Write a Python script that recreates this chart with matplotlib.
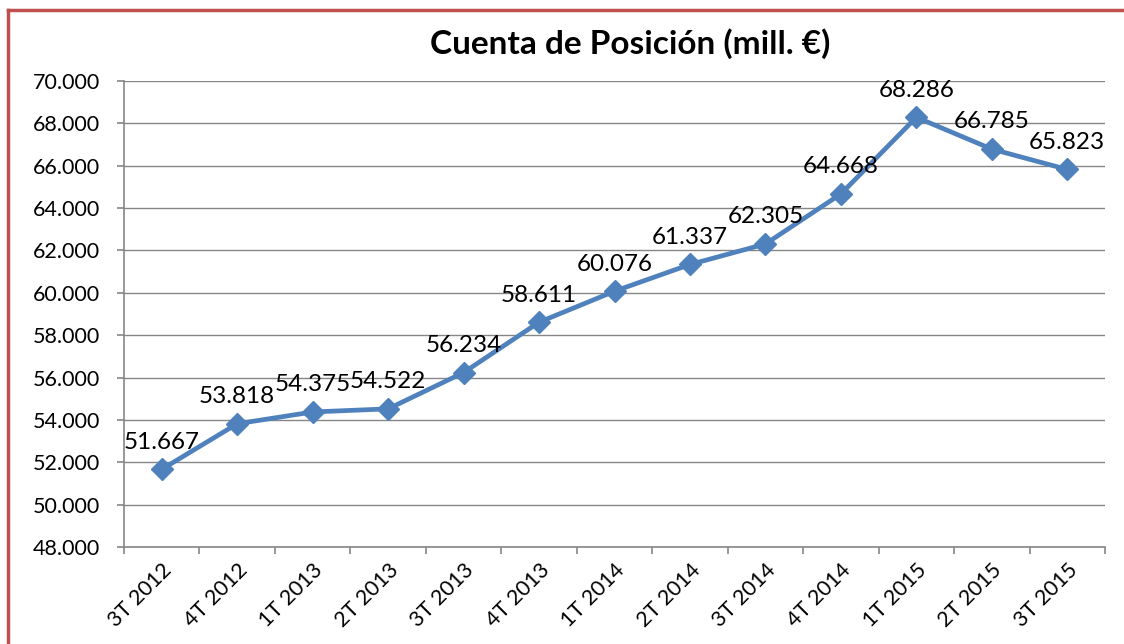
import matplotlib
matplotlib.use("Agg")
import matplotlib.pyplot as plt
from matplotlib.ticker import FuncFormatter, FixedLocator, MultipleLocator, NullFormatter
from matplotlib.lines import Line2D

categories = ["3T 2012", "4T 2012", "1T 2013", "2T 2013", "3T 2013", "4T 2013",
              "1T 2014", "2T 2014", "3T 2014", "4T 2014", "1T 2015", "2T 2015", "3T 2015"]
values = [51667, 53818, 54375, 54522, 56234, 58611, 60076, 61337, 62305, 64668,
          68286, 66785, 65823]
title = "Cuenta de Posición (mill. €)"

def fmt(v):
    return f"{v:,.0f}".replace(",", ".")

plt.rcParams['font.family'] = ['Lato', 'DejaVu Sans']

W, H = 1124, 644
fig = plt.figure(figsize=(W / 100, H / 100), dpi=100)
ax = fig.add_axes([124 / W, 1 - 547 / H, (1105 - 124) / W, (547 - 81) / H])

x = list(range(len(values)))
ax.plot(x, values, color="#4F81BD", lw=3.4, marker="D", markersize=11,
        markerfacecolor="#4F81BD", markeredgecolor="#4F81BD", zorder=3)

for xi, v in zip(x, values):
    ax.annotate(fmt(v), (xi, v), xytext=(0, 12), textcoords="offset points",
                ha="center", va="bottom", fontsize=17.5, color="black", zorder=4)

ax.set_xlim(-0.5, len(values) - 0.5)
ax.set_ylim(48000, 70000)
ax.yaxis.set_major_locator(MultipleLocator(2000))
ax.yaxis.set_major_formatter(FuncFormatter(lambda v, p: fmt(v)))
ax.grid(axis="y", color="#868686", lw=1)
ax.set_axisbelow(True)

ax.set_xticks(x)
ax.set_xticklabels(categories, rotation=45, ha="right", va="top",
                   rotation_mode="anchor", fontsize=15.5)
ax.tick_params(axis="x", length=0, pad=9)
ax.xaxis.set_minor_locator(FixedLocator([i - 0.5 for i in range(len(values) + 1)]))
ax.xaxis.set_minor_formatter(NullFormatter())
ax.tick_params(axis="x", which="minor", length=5, color="#868686", width=1.2)
ax.tick_params(axis="y", length=5, color="#868686", width=1.2, labelsize=15.5, pad=12)

for s in ["top", "right"]:
    ax.spines[s].set_visible(False)
for s in ["left", "bottom"]:
    ax.spines[s].set_color("#868686")
    ax.spines[s].set_linewidth(1.2)

fig.text(630 / W, 1 - 44 / H, title, ha="center", va="center",
         fontsize=24, fontweight="bold")

red = "#C0504D"
fig.add_artist(Line2D([8 / W, 8 / W], [0, 1 - 10 / H], color=red, lw=2.5,
                      transform=fig.transFigure))
fig.add_artist(Line2D([8 / W, 1], [1 - 10 / H, 1 - 10 / H], color=red, lw=2.5,
                      transform=fig.transFigure))

fig.savefig("out.png", dpi=100)
